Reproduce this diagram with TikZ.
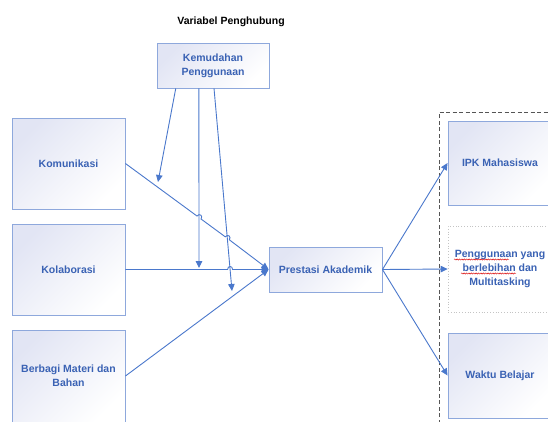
\documentclass[tikz,border=0pt]{standalone}
\usepackage{fontspec}
\setmainfont{Liberation Sans}
\usetikzlibrary{arrows.meta,decorations.pathmorphing,calc}
\definecolor{lineblue}{HTML}{4A78CC}
\definecolor{boxblue}{HTML}{8EA8DC}
\definecolor{txtblue}{HTML}{3A62B4}
\definecolor{shadec}{HTML}{E2E5F4}
\definecolor{framegray}{HTML}{555555}
\definecolor{dotgray}{HTML}{C4C4C4}
\tikzset{
  txt/.style={font=\bfseries\fontsize{10.5}{14}\selectfont, align=center, inner sep=0pt},
  box/.style={txt, draw=boxblue, line width=0.9pt, shading=axis, top color=shadec,
    bottom color=white, shading angle=45, text=txtblue},
  plainbox/.style={txt, draw=dotgray, line width=0.8pt, dotted, fill=white, text=txtblue},
  conn/.style={draw=lineblue, line width=0.9pt, -{Triangle[length=7pt,width=6.5pt]}},
  frame/.style={draw=framegray, line width=0.8pt, dash pattern=on 4pt off 2.5pt},
  squig/.style={draw=red!85!black, line width=0.45pt, decorate,
    decoration={snake, amplitude=0.6pt, segment length=2.4pt}}
}
\begin{document}
\begin{tikzpicture}[x=1pt,y=-1pt]
\useasboundingbox (0,0) rectangle (548,421);
\fill[white] (0,0) rectangle (548,421);
\clip (0,0) rectangle (548,421);

% title
\node[txt, text=black] (title) at (231,22) {Variabel Penghubung};

% boxes
\node[box, minimum width=112pt, minimum height=45pt] (kem) at (213,65.5) {Kemudahan\\Penggunaan};
\node[box, minimum width=113pt, minimum height=91pt] (kom) at (68.5,163.5) {Komunikasi};
\node[box, minimum width=113pt, minimum height=91pt] (kol) at (68.5,269.5) {Kolaborasi};
\node[box, minimum width=113pt, minimum height=92pt] (ber) at (68.5,376) {Berbagi Materi dan\\Bahan};
\node[box, minimum width=113pt, minimum height=45pt] (pre) at (325.5,269.5) {Prestasi Akademik};

% dashed frame (only top and left edges are visible)
\draw[frame] (439,430) -- (439,112) -- (560,112);

\node[box, minimum width=104pt, minimum height=84pt] (ipk) at (500,163) {IPK Mahasiswa};
\node[plainbox, minimum width=104pt, minimum height=86pt] (pen) at (500,269) {Penggunaan yang\\berlebihan dan\\Multitasking};
\node[box, minimum width=104pt, minimum height=85pt] (wak) at (500,375.5) {Waktu Belajar};

% spell-check underlines
\draw[squig] (454,259.5) -- (509,259.5);
\draw[squig] (461,273.5) -- (516,273.5);

% hop coordinates
\coordinate (h1s) at (196.99,216.02);
\coordinate (h1a) at (199.36,212.8);
\coordinate (h1b) at (203.38,215.76);
\coordinate (h1e) at (201.01,218.98);
\coordinate (h2s) at (225.29,236.82);
\coordinate (h2a) at (227.66,233.6);
\coordinate (h2b) at (231.68,236.56);
\coordinate (h2e) at (229.31,239.78);
\coordinate (h3s) at (227.6,269.5);
\coordinate (h3a) at (227.6,265.5);
\coordinate (h3b) at (232.6,265.5);
\coordinate (h3e) at (232.6,269.5);

% inputs to Prestasi Akademik
\draw[conn] (kom.east) -- (h1s) .. controls (h1a) and (h1b) .. (h1e)
  -- (h2s) .. controls (h2a) and (h2b) .. (h2e) -- (pre.west);
\draw[conn] (kol.east) -- (h3s) .. controls (h3a) and (h3b) .. (h3e) -- (pre.west);
\draw[conn] (ber.east) -- (pre.west);

% from Kemudahan Penggunaan
\coordinate (m1) at (158,182);
\coordinate (m2) at (199,268);
\coordinate (m3) at (232,291);
\draw[conn] ($(kem.south west)!0.17!(kem.south east)$) -- (m1);
\draw[conn] ($(kem.south west)!0.375!(kem.south east)$) -- (m2);
\draw[conn] ($(kem.south west)!0.509!(kem.south east)$) -- (m3);

% outputs
\draw[conn] (pre.east) -- (ipk.west);
\draw[conn] (pre.east) -- (pen.west);
\draw[conn] (pre.east) -- (wak.west);
\end{tikzpicture}
\end{document}
